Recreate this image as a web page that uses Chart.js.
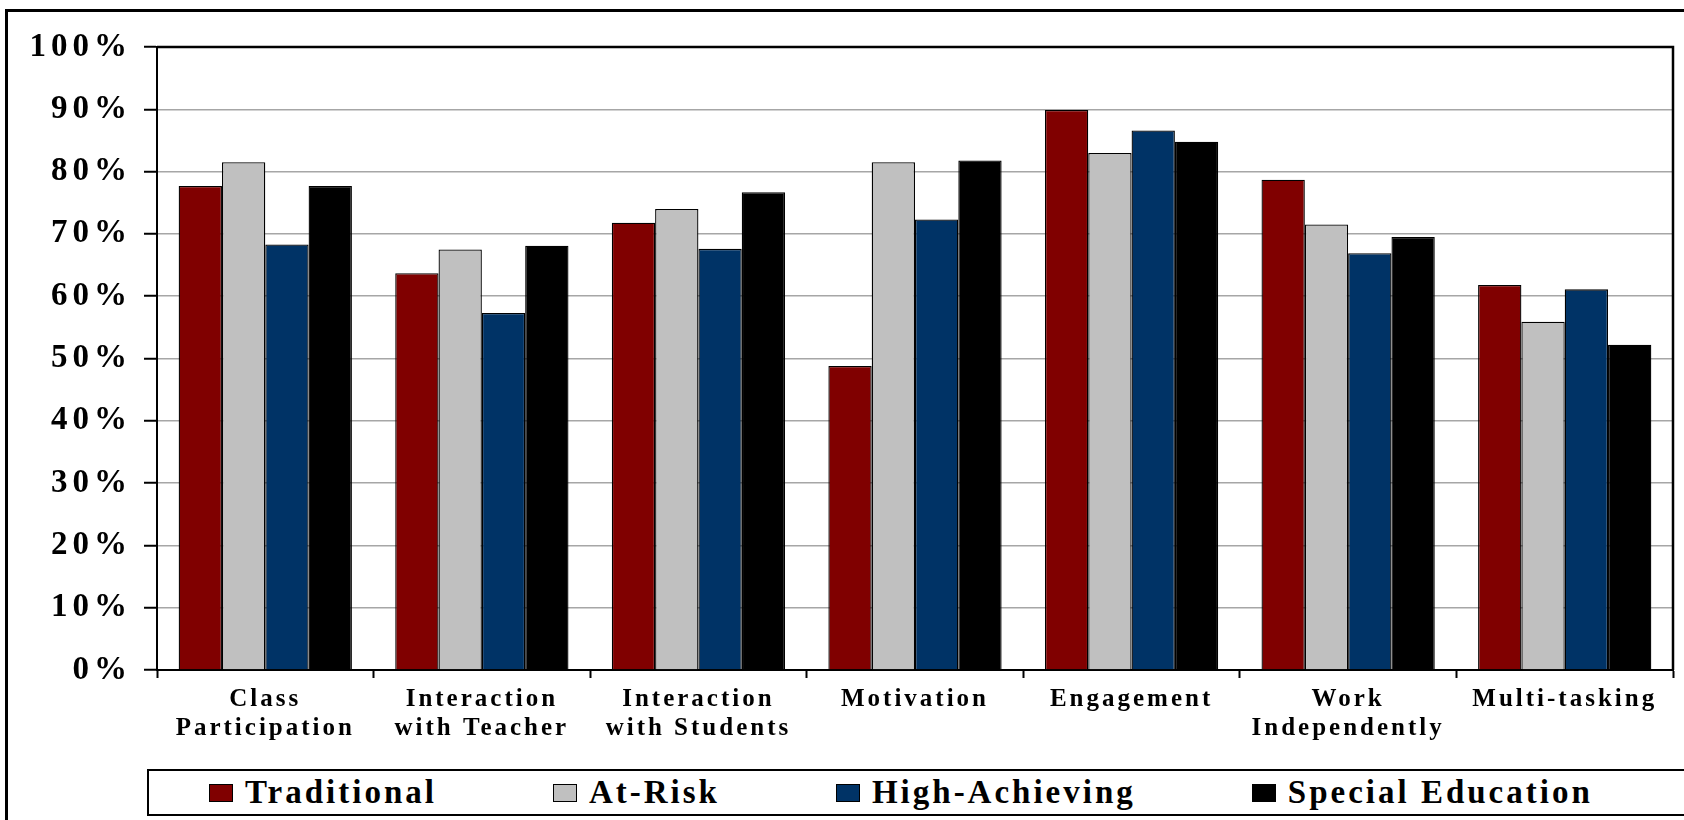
<!DOCTYPE html>
<html>
<head>
<meta charset="utf-8">
<script src="https://cdn.jsdelivr.net/npm/chart.js@4/dist/chart.umd.min.js"></script>
<style>
    html, body { margin: 0; padding: 0; background: #fff; overflow: hidden; }
    #wrap { position: relative; width: 1684px; height: 820px; }
    #frame { position: absolute; left: 5px; top: 9px; width: 1700px; height: 900px; border: 3px solid #000; }
    #chart { position: absolute; left: 0; top: 0; }
    #legend {
        position: absolute; left: 147px; top: 769px; width: 1495px; height: 43px;
        border: 2px solid #000; background: #fff; overflow: hidden;
        display: flex; align-items: center; padding-left: 60px; box-sizing: content-box;
    }
    #legend .item { display: flex; align-items: center; flex: 0 0 auto; margin-right: 116px; white-space: nowrap; }
    #legend .box { width: 22px; height: 16px; border: 1px solid #000; margin-right: 12px; flex: 0 0 auto; }
    #legend .text {
        font: bold 33px "Liberation Serif", "Times New Roman", serif;
        letter-spacing: 3px; color: #000; line-height: 1; white-space: nowrap;
    }
</style>
</head>
<body>
<div id="wrap">
    <div id="frame"></div>
    <canvas id="chart" width="1684" height="820"></canvas>
    <div id="legend"></div>
</div>
<script>
// values (percent)
const categories = [
    ["Class", "Participation"],
    ["Interaction", "with Teacher"],
    ["Interaction", "with Students"],
    "Motivation",
    "Engagement",
    ["Work", "Independently"],
    "Multi-tasking"
];
const seriesNames = ["Traditional", "At-Risk", "High-Achieving", "Special Education"];
const traditional = [77.7, 63.7, 71.8, 48.8, 89.9, 78.7, 61.8];
const atRisk = [81.5, 67.5, 74.0, 81.5, 83.0, 71.5, 55.9];
const highAchieving = [68.3, 57.3, 67.6, 72.3, 86.6, 66.9, 61.1];
const specialEducation = [77.7, 68.1, 76.7, 81.8, 84.8, 69.5, 52.2];
const yTickStep = 10;
const yMax = 100;

const seriesColors = ["#800000", "#c0c0c0", "#003366", "#000000"];
const serif = "'Liberation Serif', 'Times New Roman', serif";

function makeDataset(i, values) {
    return {
        label: seriesNames[i],
        data: values,
        backgroundColor: seriesColors[i],
        borderColor: "#000",
        borderWidth: 1.3,
        barPercentage: 1.0,
        categoryPercentage: 0.8
    };
}

// letter spacing on the canvas text (x labels first, y labels are drawn after the bars)
// + black frame on top/right of the plot
const plotFrame = {
    id: "plotFrame",
    beforeUpdate(chart) { chart.ctx.letterSpacing = "3px"; },
    beforeDraw(chart) { chart.ctx.letterSpacing = "3px"; },
    afterDatasetsDraw(chart) { chart.ctx.letterSpacing = "5px"; },
    afterDraw(chart) {
        const a = chart.chartArea;
        const ctx = chart.ctx;
        ctx.save();
        ctx.strokeStyle = "#000";
        ctx.lineWidth = 2.5;
        ctx.beginPath();
        ctx.moveTo(a.left, a.top);
        ctx.lineTo(a.right, a.top);
        ctx.lineTo(a.right, a.bottom);
        ctx.stroke();
        ctx.restore();
    }
};

const chart = new Chart(document.getElementById("chart"), {
    type: "bar",
    data: {
        labels: categories,
        datasets: [
            makeDataset(0, traditional),
            makeDataset(1, atRisk),
            makeDataset(2, highAchieving),
            makeDataset(3, specialEducation)
        ]
    },
    options: {
        responsive: false,
        animation: false,
        devicePixelRatio: 1,
        layout: { padding: { top: 47, right: 11, bottom: 70, left: 0 } },
        plugins: {
            legend: { display: false },
            tooltip: { enabled: false }
        },
        scales: {
            x: {
                afterFit: function (scale) { scale.height = 80; },
                grid: {
                    drawOnChartArea: false,
                    drawTicks: true,
                    tickLength: 8,
                    tickColor: "#000",
                    tickWidth: 2,
                    offset: true
                },
                border: { display: true, color: "#000", width: 2 },
                ticks: {
                    color: "#000",
                    padding: 7,
                    maxRotation: 0,
                    autoSkip: false,
                    font: { family: serif, size: 25, weight: "bold", lineHeight: 1.17 }
                }
            },
            y: {
                min: 0,
                max: yMax,
                afterFit: function (scale) { scale.width = 157; },
                grid: {
                    color: "#a6a6a6",
                    lineWidth: 1.5,
                    tickLength: 13,
                    tickColor: "#000",
                    tickWidth: 2
                },
                border: { display: true, color: "#000", width: 2 },
                ticks: {
                    z: 1,
                    stepSize: yTickStep,
                    color: "#000",
                    padding: 12,
                    font: { family: serif, size: 33, weight: "bold" },
                    callback: function (v) { return v + "%"; }
                }
            }
        }
    },
    plugins: [plotFrame]
});

// legend box under the chart, built from the chart's datasets
const legend = document.getElementById("legend");
chart.data.datasets.forEach(function (ds) {
    let item = document.createElement("div");
    item.setAttribute("class", "item");

    let box = document.createElement("span");
    box.setAttribute("class", "box");
    box.setAttribute("style", "background: " + ds.backgroundColor + ";");

    let text = document.createElement("span");
    text.setAttribute("class", "text");
    text.textContent = ds.label;

    item.appendChild(box);
    item.appendChild(text);
    legend.appendChild(item);
});
</script>
</body>
</html>
